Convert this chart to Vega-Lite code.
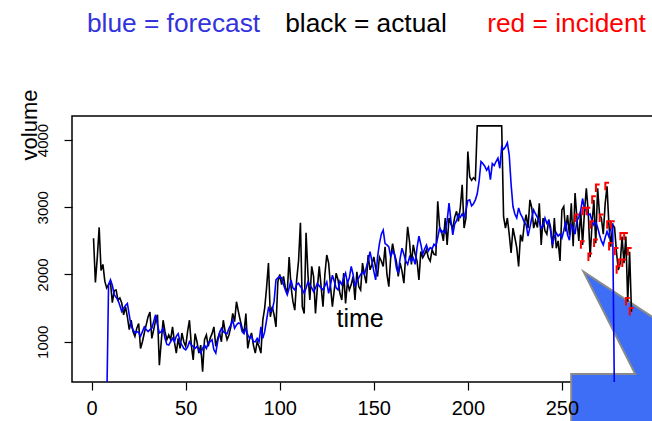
{
  "$schema": "https://vega.github.io/schema/vega-lite/v6.json",
  "width": 581,
  "height": 266,
  "autosize": "none",
  "padding": {"left": 72, "top": 116, "right": 0, "bottom": 39},
  "background": "white",
  "config": {
    "view": {"stroke": "#000000", "strokeWidth": 1.5},
    "font": "Liberation Sans",
    "axis": {"domain": false, "grid": false, "tickColor": "#000000", "labelColor": "#000000", "labelFont": "Liberation Sans", "tickWidth": 1.2, "zindex": 2}
  },
  "datasets": {
    "actual": [
      {"t":1,"v":2540},{"t":2,"v":1880},{"t":3,"v":2250},{"t":4,"v":2700},{"t":5,"v":2060},{"t":6,"v":2150},{"t":7,"v":1900},{"t":8,"v":1800},{"t":9,"v":1850},{"t":10,"v":1890},
      {"t":11,"v":1580},{"t":12,"v":1760},{"t":13,"v":1770},{"t":14,"v":1620},{"t":15,"v":1650},{"t":16,"v":1575},{"t":17,"v":1400},{"t":18,"v":1520},{"t":19,"v":1370},{"t":20,"v":1180},
      {"t":21,"v":1320},{"t":22,"v":1150},{"t":23,"v":1080},{"t":24,"v":1200},{"t":25,"v":1270},{"t":26,"v":900},{"t":27,"v":1000},{"t":28,"v":1130},{"t":29,"v":1250},{"t":30,"v":1370},
      {"t":31,"v":1440},{"t":32,"v":1050},{"t":33,"v":1180},{"t":34,"v":1320},{"t":35,"v":1400},{"t":36,"v":650},{"t":37,"v":1000},{"t":38,"v":1320},{"t":39,"v":1150},{"t":40,"v":1030},
      {"t":41,"v":1100},{"t":42,"v":1030},{"t":43,"v":1220},{"t":44,"v":1000},{"t":45,"v":830},{"t":46,"v":1050},{"t":47,"v":900},{"t":48,"v":1130},{"t":49,"v":1000},{"t":50,"v":930},
      {"t":51,"v":1150},{"t":52,"v":1320},{"t":53,"v":950},{"t":54,"v":730},{"t":55,"v":1120},{"t":56,"v":1000},{"t":57,"v":830},{"t":58,"v":950},{"t":59,"v":555},{"t":60,"v":1030},
      {"t":61,"v":1100},{"t":62,"v":930},{"t":63,"v":1050},{"t":64,"v":1120},{"t":65,"v":1220},{"t":66,"v":930},{"t":67,"v":1050},{"t":68,"v":1130},{"t":69,"v":1000},{"t":70,"v":1320},
      {"t":71,"v":1150},{"t":72,"v":1030},{"t":73,"v":1100},{"t":74,"v":1220},{"t":75,"v":1420},{"t":76,"v":1300},{"t":77,"v":1595},{"t":78,"v":1450},{"t":79,"v":1320},{"t":80,"v":1200},
      {"t":81,"v":1130},{"t":82,"v":1420},{"t":83,"v":900},{"t":84,"v":1050},{"t":85,"v":1130},{"t":86,"v":950},{"t":87,"v":830},{"t":88,"v":1000},{"t":89,"v":930},{"t":90,"v":830},
      {"t":91,"v":1320},{"t":92,"v":1500},{"t":93,"v":1800},{"t":94,"v":2170},{"t":95,"v":1370},{"t":96,"v":1520},{"t":97,"v":1400},{"t":98,"v":1220},{"t":99,"v":1890},{"t":100,"v":2000},
      {"t":101,"v":1850},{"t":102,"v":1970},{"t":103,"v":1800},{"t":104,"v":1720},{"t":105,"v":2260},{"t":106,"v":1820},{"t":107,"v":1600},{"t":108,"v":1470},{"t":109,"v":1920},{"t":110,"v":2200},
      {"t":111,"v":2770},{"t":112,"v":1520},{"t":113,"v":1420},{"t":114,"v":2620},{"t":115,"v":2000},{"t":116,"v":1620},{"t":117,"v":2120},{"t":118,"v":1970},{"t":119,"v":1420},{"t":120,"v":1800},
      {"t":121,"v":2120},{"t":122,"v":1820},{"t":123,"v":1520},{"t":124,"v":2000},{"t":125,"v":2290},{"t":126,"v":2170},{"t":127,"v":1820},{"t":128,"v":1520},{"t":129,"v":1770},{"t":130,"v":2020},
      {"t":131,"v":1920},{"t":132,"v":1720},{"t":133,"v":1620},{"t":134,"v":2020},{"t":135,"v":1570},{"t":136,"v":1890},{"t":137,"v":1770},{"t":138,"v":1850},{"t":139,"v":1970},{"t":140,"v":1620},
      {"t":141,"v":2040},{"t":142,"v":1820},{"t":143,"v":1770},{"t":144,"v":2170},{"t":145,"v":2000},{"t":146,"v":1870},{"t":147,"v":2290},{"t":148,"v":2070},{"t":149,"v":2150},{"t":150,"v":2260},
      {"t":151,"v":2100},{"t":152,"v":1970},{"t":153,"v":2260},{"t":154,"v":2200},{"t":155,"v":2120},{"t":156,"v":2410},{"t":157,"v":2000},{"t":158,"v":1820},{"t":159,"v":2260},{"t":160,"v":2460},
      {"t":161,"v":2300},{"t":162,"v":2200},{"t":163,"v":1970},{"t":164,"v":2170},{"t":165,"v":2050},{"t":166,"v":1870},{"t":167,"v":2300},{"t":168,"v":2710},{"t":169,"v":2490},{"t":170,"v":2150},
      {"t":171,"v":2440},{"t":172,"v":2300},{"t":173,"v":2200},{"t":174,"v":1920},{"t":175,"v":2340},{"t":176,"v":2250},{"t":177,"v":2300},{"t":178,"v":2370},{"t":179,"v":2250},{"t":180,"v":2200},
      {"t":181,"v":2370},{"t":182,"v":2300},{"t":183,"v":2290},{"t":184,"v":3090},{"t":185,"v":2700},{"t":186,"v":2640},{"t":187,"v":2500},{"t":188,"v":2840},{"t":189,"v":2440},{"t":190,"v":2840},
      {"t":191,"v":2750},{"t":192,"v":2690},{"t":193,"v":2850},{"t":194,"v":2940},{"t":195,"v":2790},{"t":196,"v":3000},{"t":197,"v":3335},{"t":198,"v":2690},{"t":199,"v":2840},{"t":200,"v":3830},
      {"t":201,"v":3450},{"t":202,"v":3400},{"t":203,"v":3440},{"t":204,"v":3410},{"t":205,"v":4210},{"t":206,"v":4210},{"t":207,"v":4210},{"t":208,"v":4210},{"t":209,"v":4210},{"t":210,"v":4210},
      {"t":211,"v":4210},{"t":212,"v":4210},{"t":213,"v":4210},{"t":214,"v":4210},{"t":215,"v":4210},{"t":216,"v":4210},{"t":217,"v":4210},{"t":218,"v":4210},{"t":219,"v":2860},{"t":220,"v":2690},
      {"t":221,"v":2840},{"t":222,"v":2600},{"t":223,"v":2320},{"t":224,"v":2690},{"t":225,"v":2550},{"t":226,"v":2400},{"t":227,"v":2120},{"t":228,"v":2590},{"t":229,"v":2490},{"t":230,"v":2750},
      {"t":231,"v":2890},{"t":232,"v":2690},{"t":233,"v":3110},{"t":234,"v":2990},{"t":235,"v":2690},{"t":236,"v":2800},{"t":237,"v":2700},{"t":238,"v":3060},{"t":239,"v":2440},{"t":240,"v":2840},
      {"t":241,"v":2650},{"t":242,"v":2600},{"t":243,"v":2815},{"t":244,"v":2700},{"t":245,"v":2390},{"t":246,"v":2840},{"t":247,"v":2390},{"t":248,"v":2500},{"t":249,"v":2200},{"t":250,"v":2960},
      {"t":251,"v":3010},{"t":252,"v":2640},{"t":253,"v":2885},{"t":254,"v":2590},{"t":255,"v":3060},{"t":256,"v":2420},{"t":257,"v":3210},{"t":258,"v":2836},{"t":259,"v":2500},{"t":260,"v":2950},
      {"t":261,"v":2440},{"t":262,"v":2935},{"t":263,"v":3280},{"t":264,"v":2935},{"t":265,"v":2256},{"t":266,"v":2737},{"t":267,"v":3109},{"t":268,"v":2464},{"t":269,"v":3283},{"t":270,"v":2900},
      {"t":271,"v":2836},{"t":272,"v":2600},{"t":273,"v":3050},{"t":274,"v":3310},{"t":275,"v":2737},{"t":276,"v":2414},{"t":277,"v":2737},{"t":278,"v":2700},{"t":279,"v":2340},{"t":280,"v":2067},
      {"t":281,"v":2167},{"t":282,"v":2563},{"t":283,"v":2167},{"t":284,"v":2563},{"t":285,"v":1595},{"t":286,"v":2339},{"t":287,"v":1446}
    ],
    "forecast": [
      {"t":8,"v":0},{"t":9,"v":1850},{"t":10,"v":1920},
      {"t":11,"v":1840},{"t":12,"v":1700},{"t":13,"v":1660},{"t":14,"v":1620},{"t":15,"v":1540},{"t":16,"v":1450},{"t":17,"v":1500},{"t":18,"v":1540},{"t":19,"v":1570},{"t":20,"v":1400},
      {"t":21,"v":1230},{"t":22,"v":1180},{"t":23,"v":1130},{"t":24,"v":1150},{"t":25,"v":1140},{"t":26,"v":1080},{"t":27,"v":1150},{"t":28,"v":1220},{"t":29,"v":1180},{"t":30,"v":1150},
      {"t":31,"v":1180},{"t":32,"v":1200},{"t":33,"v":1300},{"t":34,"v":1400},{"t":35,"v":1250},{"t":36,"v":1130},{"t":37,"v":1150},{"t":38,"v":1200},{"t":39,"v":1050},{"t":40,"v":960},
      {"t":41,"v":950},{"t":42,"v":1000},{"t":43,"v":1050},{"t":44,"v":1000},{"t":45,"v":1080},{"t":46,"v":1120},{"t":47,"v":1000},{"t":48,"v":950},{"t":49,"v":900},{"t":50,"v":880},
      {"t":51,"v":920},{"t":52,"v":1000},{"t":53,"v":950},{"t":54,"v":930},{"t":55,"v":900},{"t":56,"v":930},{"t":57,"v":880},{"t":58,"v":830},{"t":59,"v":900},{"t":60,"v":950},
      {"t":61,"v":900},{"t":62,"v":980},{"t":63,"v":1000},{"t":64,"v":1030},{"t":65,"v":880},{"t":66,"v":830},{"t":67,"v":1000},{"t":68,"v":1130},{"t":69,"v":1200},{"t":70,"v":1150},
      {"t":71,"v":1130},{"t":72,"v":1120},{"t":73,"v":1200},{"t":74,"v":1250},{"t":75,"v":1320},{"t":76,"v":1200},{"t":77,"v":1250},{"t":78,"v":1280},{"t":79,"v":1270},{"t":80,"v":1150},
      {"t":81,"v":1120},{"t":82,"v":1200},{"t":83,"v":1100},{"t":84,"v":1050},{"t":85,"v":1080},{"t":86,"v":1000},{"t":87,"v":1000},{"t":88,"v":1050},{"t":89,"v":1000},{"t":90,"v":1220},
      {"t":91,"v":1050},{"t":92,"v":1150},{"t":93,"v":1320},{"t":94,"v":1500},{"t":95,"v":1450},{"t":96,"v":1470},{"t":97,"v":1600},{"t":98,"v":1920},{"t":99,"v":1950},{"t":100,"v":1970},
      {"t":101,"v":1950},{"t":102,"v":1850},{"t":103,"v":1770},{"t":104,"v":1700},{"t":105,"v":1800},{"t":106,"v":1920},{"t":107,"v":1800},{"t":108,"v":1770},{"t":109,"v":1850},{"t":110,"v":1870},
      {"t":111,"v":1820},{"t":112,"v":1780},{"t":113,"v":1720},{"t":114,"v":1800},{"t":115,"v":1890},{"t":116,"v":1850},{"t":117,"v":1800},{"t":118,"v":1745},{"t":119,"v":1800},{"t":120,"v":1870},
      {"t":121,"v":1830},{"t":122,"v":1800},{"t":123,"v":1770},{"t":124,"v":1830},{"t":125,"v":1890},{"t":126,"v":1720},{"t":127,"v":1850},{"t":128,"v":1990},{"t":129,"v":1900},{"t":130,"v":1800},
      {"t":131,"v":1770},{"t":132,"v":1900},{"t":133,"v":1850},{"t":134,"v":1950},{"t":135,"v":2020},{"t":136,"v":1870},{"t":137,"v":1950},{"t":138,"v":2120},{"t":139,"v":2000},{"t":140,"v":1820},
      {"t":141,"v":1900},{"t":142,"v":1950},{"t":143,"v":2000},{"t":144,"v":2040},{"t":145,"v":2000},{"t":146,"v":2100},{"t":147,"v":2200},{"t":148,"v":2340},{"t":149,"v":2200},{"t":150,"v":2050},
      {"t":151,"v":1920},{"t":152,"v":2260},{"t":153,"v":2460},{"t":154,"v":2600},{"t":155,"v":2660},{"t":156,"v":2460},{"t":157,"v":2440},{"t":158,"v":2410},{"t":159,"v":2260},{"t":160,"v":2350},
      {"t":161,"v":2300},{"t":162,"v":2100},{"t":163,"v":2020},{"t":164,"v":2240},{"t":165,"v":2390},{"t":166,"v":2300},{"t":167,"v":2200},{"t":168,"v":2150},{"t":169,"v":2260},{"t":170,"v":2200},
      {"t":171,"v":2245},{"t":172,"v":2150},{"t":173,"v":2400},{"t":174,"v":2570},{"t":175,"v":2450},{"t":176,"v":2300},{"t":177,"v":2380},{"t":178,"v":2440},{"t":179,"v":2350},{"t":180,"v":2400},
      {"t":181,"v":2380},{"t":182,"v":2450},{"t":183,"v":2420},{"t":184,"v":2550},{"t":185,"v":2690},{"t":186,"v":2620},{"t":187,"v":2650},{"t":188,"v":2620},{"t":189,"v":2800},{"t":190,"v":3060},
      {"t":191,"v":2800},{"t":192,"v":2590},{"t":193,"v":2750},{"t":194,"v":2800},{"t":195,"v":2890},{"t":196,"v":2850},{"t":197,"v":2900},{"t":198,"v":2850},{"t":199,"v":2950},{"t":200,"v":3100},
      {"t":201,"v":3110},{"t":202,"v":3020},{"t":203,"v":3050},{"t":204,"v":3110},{"t":205,"v":3200},{"t":206,"v":3390},{"t":207,"v":3680},{"t":208,"v":3650},{"t":209,"v":3610},{"t":210,"v":3550},
      {"t":211,"v":3600},{"t":212,"v":3410},{"t":213,"v":3650},{"t":214,"v":3620},{"t":215,"v":3680},{"t":216,"v":3730},{"t":217,"v":3580},{"t":218,"v":3900},{"t":219,"v":3860},{"t":220,"v":3900},
      {"t":221,"v":3960},{"t":222,"v":3780},{"t":223,"v":3340},{"t":224,"v":3010},{"t":225,"v":2900},{"t":226,"v":2840},{"t":227,"v":2990},{"t":228,"v":2900},{"t":229,"v":2850},{"t":230,"v":2780},
      {"t":231,"v":2740},{"t":232,"v":2570},{"t":233,"v":2700},{"t":234,"v":2840},{"t":235,"v":2960},{"t":236,"v":2900},{"t":237,"v":2850},{"t":238,"v":2780},{"t":239,"v":2690},{"t":240,"v":2720},
      {"t":241,"v":2840},{"t":242,"v":2760},{"t":243,"v":2800},{"t":244,"v":2650},{"t":245,"v":2440},{"t":246,"v":2560},{"t":247,"v":2620},{"t":248,"v":2570},{"t":249,"v":2600},{"t":250,"v":2540},
      {"t":251,"v":2650},{"t":252,"v":2790},{"t":253,"v":2590},{"t":254,"v":2510},{"t":255,"v":2740},{"t":256,"v":2690},{"t":257,"v":2600},{"t":258,"v":2800},{"t":259,"v":2850},{"t":260,"v":2950},
      {"t":261,"v":3130},{"t":262,"v":2980},{"t":263,"v":2950},{"t":264,"v":2885},{"t":265,"v":2900},{"t":266,"v":2800},{"t":267,"v":2736},{"t":268,"v":2780},{"t":269,"v":2700},{"t":270,"v":2590},
      {"t":271,"v":2500},{"t":272,"v":2440},{"t":273,"v":2550},{"t":274,"v":2640},{"t":275,"v":2560},{"t":276,"v":2700},{"t":277,"v":2740},{"t":278,"v":0}
    ],
    "incident": [
      {"t":258,"v":2836},{"t":261,"v":2440},{"t":262,"v":2935},{"t":264,"v":2935},{"t":265,"v":2256},{"t":266,"v":2737},{"t":267,"v":3109},{"t":268,"v":2464},{"t":269,"v":3283},
      {"t":271,"v":2836},{"t":274,"v":3310},{"t":275,"v":2737},{"t":276,"v":2414},{"t":277,"v":2737},{"t":279,"v":2340},{"t":280,"v":2067},{"t":281,"v":2167},{"t":282,"v":2563},
      {"t":283,"v":2167},{"t":284,"v":2563},{"t":285,"v":1595},{"t":286,"v":2339},{"t":287,"v":1446}
    ],
    "callout": [
      {"i":1,"t":254.95,"v":520},{"i":2,"t":289.0,"v":520},{"i":3,"t":261.5,"v":2041},{"i":4,"t":344.3,"v":520},
      {"i":5,"t":376.8,"v":520},{"i":6,"t":376.8,"v":-1355},{"i":7,"t":254.95,"v":-1355}
    ],
    "labels": [
      {"text":"blue = forecast","t":-2.5,"v":5610,"role":"forecast"},
      {"text":"black = actual","t":102.9,"v":5610,"role":"actual"},
      {"text":"red = incident","t":210.3,"v":5610,"role":"incident"}
    ],
    "notes": [
      {"text":"time","t":142.7,"v":1219}
    ],
    "ylab": [
      {"text":"volume","t":-32.8,"v":4223}
    ]
  },
  "layer": [
    {
      "data": {"name": "callout"},
      "mark": {"type": "line", "interpolate": "linear-closed", "fill": "#3d6ef5", "stroke": "#8a8a8a", "strokeWidth": 2, "clip": false},
      "encoding": {
        "x": {"field": "t", "type": "quantitative", "scale": {"domain": [-10.44, 298.44], "nice": false, "zero": false}, "axis": {"values": [0,50,100,150,200,250,300], "title": null, "tickSize": 8, "labelFontSize": 20, "labelPadding": 8, "labelFlush": false, "zindex": 2}},
        "y": {"field": "v", "type": "quantitative", "scale": {"domain": [401, 4357], "nice": false, "zero": false}, "axis": {"values": [1000,2000,3000,4000], "format": "d", "title": null, "tickSize": 8, "labelFontSize": 15, "labelAngle": 270, "labelAlign": "center", "labelBaseline": "bottom", "labelPadding": 14, "zindex": 2}},
        "order": {"field": "i", "type": "quantitative"}
      }
    },
    {
      "data": {"name": "actual"},
      "mark": {"type": "line", "color": "#000000", "strokeWidth": 1.6, "clip": true},
      "encoding": {
        "x": {"field": "t", "type": "quantitative"},
        "y": {"field": "v", "type": "quantitative"}
      }
    },
    {
      "data": {"name": "forecast"},
      "mark": {"type": "line", "color": "#0000ff", "strokeWidth": 1.6, "clip": true},
      "encoding": {
        "x": {"field": "t", "type": "quantitative"},
        "y": {"field": "v", "type": "quantitative"}
      }
    },
    {
      "data": {"name": "incident"},
      "mark": {"type": "point", "shape": "M -0.45 1 L -0.45 -1 L 0.55 -1", "filled": false, "stroke": "#ff0000", "strokeWidth": 2, "size": 56, "opacity": 1, "clip": false},
      "encoding": {
        "x": {"field": "t", "type": "quantitative"},
        "y": {"field": "v", "type": "quantitative"}
      }
    },
    {
      "data": {"name": "labels"},
      "mark": {"type": "text", "fontSize": 26.3, "align": "left", "baseline": "alphabetic", "clip": false},
      "encoding": {
        "x": {"field": "t", "type": "quantitative"},
        "y": {"field": "v", "type": "quantitative"},
        "text": {"field": "text"},
        "color": {"field": "role", "type": "nominal", "scale": {"domain": ["forecast","actual","incident"], "range": ["#3333dd","#000000","#ff0000"]}, "legend": null}
      }
    },
    {
      "data": {"name": "notes"},
      "mark": {"type": "text", "fontSize": 25, "align": "center", "baseline": "alphabetic", "color": "#000000", "clip": false},
      "encoding": {
        "x": {"field": "t", "type": "quantitative"},
        "y": {"field": "v", "type": "quantitative"},
        "text": {"field": "text"}
      }
    },
    {
      "data": {"name": "ylab"},
      "mark": {"type": "text", "fontSize": 22, "align": "center", "baseline": "middle", "angle": 270, "color": "#000000", "clip": false},
      "encoding": {
        "x": {"field": "t", "type": "quantitative"},
        "y": {"field": "v", "type": "quantitative"},
        "text": {"field": "text"}
      }
    }
  ]
}
